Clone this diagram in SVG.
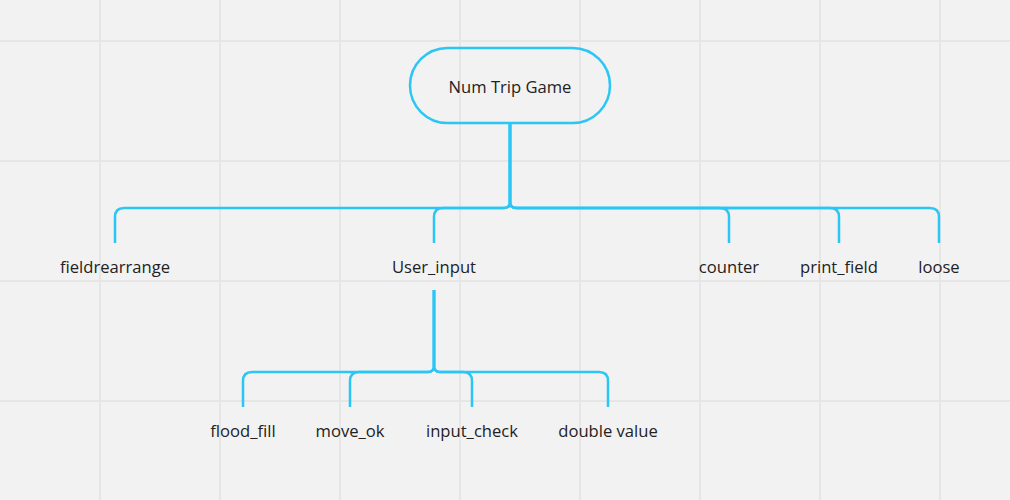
<svg xmlns="http://www.w3.org/2000/svg" width="1010" height="500" viewBox="0 0 1010 500">
<style>
.grid{stroke:#e6e6e6;stroke-width:2}
.conn{fill:none;stroke:#2bc6f6;stroke-width:2.5;stroke-linecap:butt}
.box{fill:none;stroke:#2bc6f6;stroke-width:2.5}
text{font-family:"Open Sans","Noto Sans",sans-serif;font-size:16.6px;fill:#222222;text-anchor:middle}
</style>
<rect width="1010" height="500" fill="#f2f2f2"/>
<g id="grid">
<path class="grid" d="M100,0V500M220,0V500M340,0V500M460,0V500M580,0V500M700,0V500M820,0V500M940,0V500M0,41H1010M0,161H1010M0,281H1010M0,401H1010"/>
</g>
<g id="connectors">
<path class="conn" d="M510,123V202Q510,208 504,208H124Q115,208 115,217V243"/>
<path class="conn" d="M510,123V202Q510,208 504,208H443Q434,208 434,217V243"/>
<path class="conn" d="M510,123V202Q510,208 516,208H720Q729,208 729,217V243"/>
<path class="conn" d="M510,123V202Q510,208 516,208H830Q839,208 839,217V243"/>
<path class="conn" d="M510,123V202Q510,208 516,208H930Q939,208 939,217V243"/>
<path class="conn" d="M434,290V366Q434,372 428,372H252Q243,372 243,381V407"/>
<path class="conn" d="M434,290V366Q434,372 428,372H359Q350,372 350,381V407"/>
<path class="conn" d="M434,290V366Q434,372 440,372H463Q472,372 472,381V407"/>
<path class="conn" d="M434,290V366Q434,372 440,372H599Q608,372 608,381V407"/>
</g>
<g id="root"><rect class="box" x="410" y="48" width="200" height="75" rx="37.5"/><text x="510" y="93">Num Trip Game</text></g>
<g id="fieldrearrange"><text x="115" y="273">fieldrearrange</text></g>
<g id="user_input"><text x="434" y="273">User_input</text></g>
<g id="counter"><text x="729" y="273">counter</text></g>
<g id="print_field"><text x="839" y="273">print_field</text></g>
<g id="loose"><text x="939" y="273">loose</text></g>
<g id="flood_fill"><text x="243" y="437">flood_fill</text></g>
<g id="move_ok"><text x="350" y="437">move_ok</text></g>
<g id="input_check"><text x="472" y="437">input_check</text></g>
<g id="double_value"><text x="608" y="437">double value</text></g>
</svg>
